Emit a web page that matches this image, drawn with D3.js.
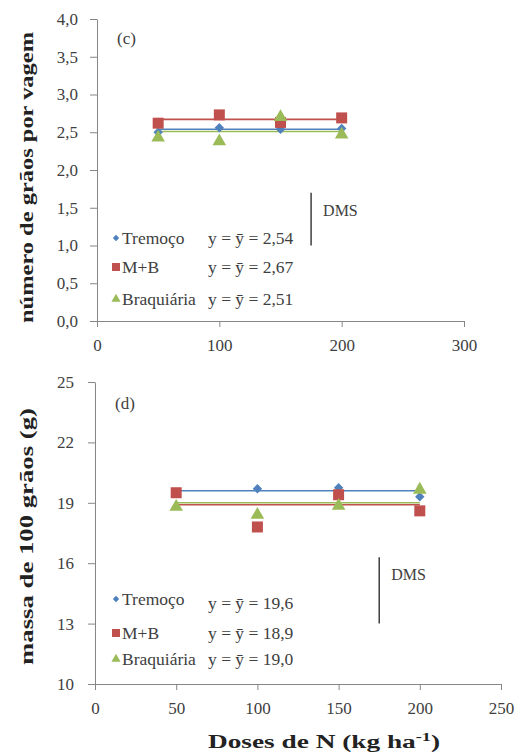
<!DOCTYPE html>
<html>
<head>
<meta charset="utf-8">
<script src="https://cdn.jsdelivr.net/npm/d3@7"></script>
<style>
  body { margin: 0; background: #fff; }
  svg text { font-family: "Liberation Serif", "Times New Roman", serif; fill: #404040; }
  .axis path, .axis line { stroke: #868686; stroke-width: 1; }
  .axis text { font-size: 17px; fill: #404040; }
  .title { font-weight: bold; fill: #222; }
</style>
</head>
<body>
<div id="chart"></div>
<script>
// doses de N (kg/ha) and the three cover crops
const doses = [50, 100, 150, 200];
const seriesNames = ['Tremoço', 'M+B', 'Braquiária'];
const seriesColors = ['#4f81bd', '#c0504d', '#9bbb59'];

// (c) número de grãos por vagem
const graosTremoco = [2.50, 2.56, 2.54, 2.55];
const graosMB = [2.62, 2.73, 2.63, 2.69];
const graosBraquiaria = [2.43, 2.38, 2.70, 2.47];
const graosMedias = [2.54, 2.67, 2.51];
const graosTicksY = [0, 0.5, 1, 1.5, 2, 2.5, 3, 3.5, 4];
const graosTicksX = [0, 100, 200, 300];
const graosDms = [1.0, 1.7];

// (d) massa de 100 grãos (g)
const massaTremoco = [19.5, 19.7, 19.75, 19.3];
const massaMB = [19.5, 17.8, 19.4, 18.6];
const massaBraquiaria = [18.8, 18.4, 18.85, 19.65];
const massaMedias = [19.6, 18.9, 19.0];
const massaTicksY = [10, 13, 16, 19, 22, 25];
const massaTicksX = [0, 50, 100, 150, 200, 250];
const massaDms = [13.0, 16.3];

const dmsDose = 175;

const ptBR = d3.formatLocale({ decimal: ',', thousands: '.', grouping: [3], currency: ['R$', ''] });

const W = 531, H = 752;

const svg = d3.select('#chart').append('svg')
    .attr('width', W)
    .attr('height', H);

const SYMBOLS = [
  d3.symbol().type(d3.symbolDiamond2).size(56),
  d3.symbol().type(d3.symbolSquare).size(121),
  d3.symbol().type(d3.symbolTriangle).size(80),
];
const LEGEND_SYMBOLS = [
  d3.symbol().type(d3.symbolDiamond2).size(26),
  d3.symbol().type(d3.symbolSquare).size(64),
  d3.symbol().type(d3.symbolTriangle).size(36),
];

function translate(x, y) {
  return 'translate(' + x + ',' + y + ')';
}

function drawPanel(p) {
  const g = svg.append('g');

  const x = d3.scaleLinear().domain(p.xDomain).range(p.xRange);
  const y = d3.scaleLinear().domain(p.yDomain).range(p.yRange);

  g.append('g')
      .attr('class', 'axis')
      .attr('transform', 'translate(0,' + p.yRange[0] + ')')
      .call(d3.axisBottom(x).tickValues(p.ticksX).tickSize(6).tickPadding(10).tickSizeOuter(0))
      .selectAll('text').attr('dy', '0.85em');

  g.append('g')
      .attr('class', 'axis')
      .attr('transform', 'translate(' + p.xRange[0] + ',0)')
      .call(d3.axisLeft(y).tickValues(p.ticksY).tickFormat(p.fmtY).tickSize(7).tickPadding(p.padY).tickSizeOuter(0));

  // mean lines (y = ȳ) over the dose range
  p.means.forEach((m, i) => {
    g.append('line')
        .attr('x1', x(d3.min(doses)))
        .attr('x2', x(d3.max(doses)))
        .attr('y1', y(m))
        .attr('y2', y(m))
        .attr('stroke', seriesColors[i])
        .attr('stroke-width', 1.6);
  });

  p.series.forEach((vals, i) => {
    g.selectAll('.pt' + i)
        .data(vals)
      .enter()
      .append('path')
        .attr('class', 'pt' + i)
        .attr('d', SYMBOLS[i])
        .attr('transform', (d, j) => translate(x(doses[j]), y(d)))
        .attr('fill', seriesColors[i]);
  });

  // DMS bar
  g.append('line')
      .attr('x1', x(dmsDose)).attr('x2', x(dmsDose))
      .attr('y1', y(p.dms[0])).attr('y2', y(p.dms[1]))
      .attr('stroke', '#222')
      .attr('stroke-width', 1.3);

  g.append('text')
      .attr('x', x(dmsDose) + 12)
      .attr('y', y(p.dms[1]) + 23)
      .attr('font-size', 16)
      .text('DMS');

  g.append('text')
      .attr('x', p.labelPos[0])
      .attr('y', p.labelPos[1])
      .attr('font-size', 17)
      .attr('fill', '#222')
      .text(p.label);

  // legend
  seriesNames.forEach((name, i) => {
    const ly = p.legendY[i];
    g.append('path')
        .attr('d', LEGEND_SYMBOLS[i])
        .attr('transform', translate(116, ly))
        .attr('fill', seriesColors[i]);
    g.append('text')
        .attr('x', 122)
        .attr('y', ly + 6)
        .attr('font-size', 17.5)
        .text(name);
    g.append('text')
        .attr('x', 208)
        .attr('y', ly + 6 + p.eqShift[i])
        .attr('font-size', 17.5)
        .text('y = ȳ = ' + p.fmtMean(p.means[i]));
  });

  // y title
  const cy = (p.titleSpan[0] + p.titleSpan[1]) / 2;
  g.append('text')
      .attr('class', 'title')
      .attr('transform', translate(33, cy) + ' rotate(-90)')
      .attr('text-anchor', 'middle')
      .attr('font-size', 18)
      .attr('textLength', p.titleSpan[1] - p.titleSpan[0])
      .attr('lengthAdjust', 'spacingAndGlyphs')
      .text(p.yTitle);

  return { x, y };
}

drawPanel({
  label: '(c)',
  labelPos: [117, 44],
  xDomain: [0, 300], xRange: [97, 464],
  yDomain: [0, 4], yRange: [321, 19],
  ticksX: graosTicksX, ticksY: graosTicksY,
  fmtY: ptBR.format('.1f'), padY: 12,
  fmtMean: ptBR.format('.2f'),
  series: [graosTremoco, graosMB, graosBraquiaria],
  means: graosMedias,
  dms: graosDms,
  legendY: [238, 267, 299],
  eqShift: [0, 0, 0],
  yTitle: 'número de grãos por vagem',
  titleSpan: [32, 323],
});

drawPanel({
  label: '(d)',
  labelPos: [115, 409],
  xDomain: [0, 250], xRange: [95, 501],
  yDomain: [10, 25], yRange: [684, 382],
  ticksX: massaTicksX, ticksY: massaTicksY,
  fmtY: d3.format('d'), padY: 14,
  fmtMean: ptBR.format('.1f'),
  series: [massaTremoco, massaMB, massaBraquiaria],
  means: massaMedias,
  dms: massaDms,
  legendY: [599, 633, 659],
  eqShift: [4, 0, 0],
  yTitle: 'massa de 100 grãos (g)',
  titleSpan: [408, 665],
});

// x axis title (bottom panel only)
const xt = svg.append('text')
    .attr('class', 'title')
    .attr('x', 208)
    .attr('y', 748)
    .attr('font-size', 18)
    .attr('textLength', 232)
    .attr('lengthAdjust', 'spacingAndGlyphs');
xt.append('tspan').text('Doses de N (kg ha');
xt.append('tspan').attr('font-size', 12).attr('dy', -7).text('-1');
xt.append('tspan').attr('dy', 7).text(')');
</script>
</body>
</html>
